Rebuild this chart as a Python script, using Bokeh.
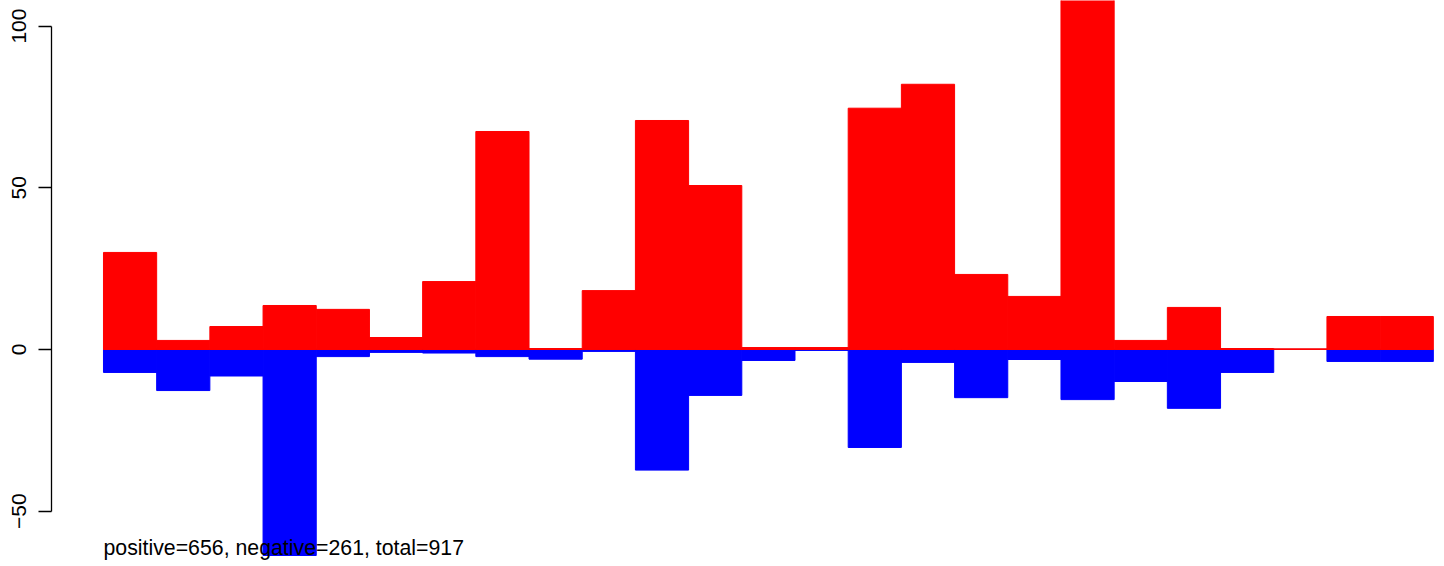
from bokeh.plotting import figure
from bokeh.models import ColumnDataSource, Label, FixedTicker
from bokeh.embed import file_html
from bokeh.resources import INLINE

# --- data ---
bins = list(range(25))
positive = [30.0, 2.8, 7.1, 13.6, 12.4, 3.7, 21.0, 67.4, 0.3, 18.2,
            70.8, 50.7, 0.6, 0.6, 74.6, 82.0, 23.2, 16.4, 120.0, 2.8,
            13.0, 0.3, 0.2, 10.2, 10.2]
negative = [-7.1, -12.7, -8.2, -63.7, -2.2, -0.9, -1.1, -2.2, -3.0, -0.6,
            -37.3, -14.2, -3.4, -0.3, -30.3, -4.0, -14.9, -3.1, -15.5, -9.9,
            -18.2, -7.1, 0.0, -3.7, -3.7]
y_ticks = [-50, 0, 50, 100]
summary = "positive=656, negative=261, total=917"

left = [b for b in bins]
right = [b + 1 for b in bins]
zeros = [0.0] * len(bins)

src = ColumnDataSource(dict(left=left, right=right, pos=positive, neg=negative, zero=zeros))

FONT = "Liberation Sans"

p = figure(width=1444, height=566, output_backend="svg", toolbar_location=None,
           x_range=(-0.977, 25.21), y_range=(-67.1, 107.9),
           x_axis_location=None, min_border_left=51, min_border_right=0,
           min_border_top=0, min_border_bottom=0)
p.outline_line_color = None
p.grid.visible = False
p.background_fill_color = "white"
p.border_fill_color = "white"

p.quad(left="left", right="right", bottom="neg", top="zero", source=src,
       fill_color="#0000FF", line_color="#0000FF", line_width=1)
p.quad(left="left", right="right", bottom="zero", top="pos", source=src,
       fill_color="#FF0000", line_color="#FF0000", line_width=1)

ax = p.yaxis[0]
ax.ticker = FixedTicker(ticks=y_ticks)
ax.bounds = (-50, 100)
ax.minor_tick_line_color = None
ax.major_tick_out = 13
ax.major_tick_in = 0
ax.axis_line_color = "black"
ax.axis_line_width = 1.3
ax.major_tick_line_color = "black"
ax.major_tick_line_width = 1.3
ax.major_label_orientation = "parallel"
ax.major_label_text_font = FONT
ax.major_label_text_font_size = "21px"
ax.major_label_text_color = "black"
ax.major_label_standoff = 12

p.add_layout(Label(x=0, y=-61.5, text=summary, text_font=FONT, text_font_size="21.3px",
                   text_color="black", text_baseline="middle", text_align="left"))

open("out.html", "w").write(file_html(p, INLINE))
